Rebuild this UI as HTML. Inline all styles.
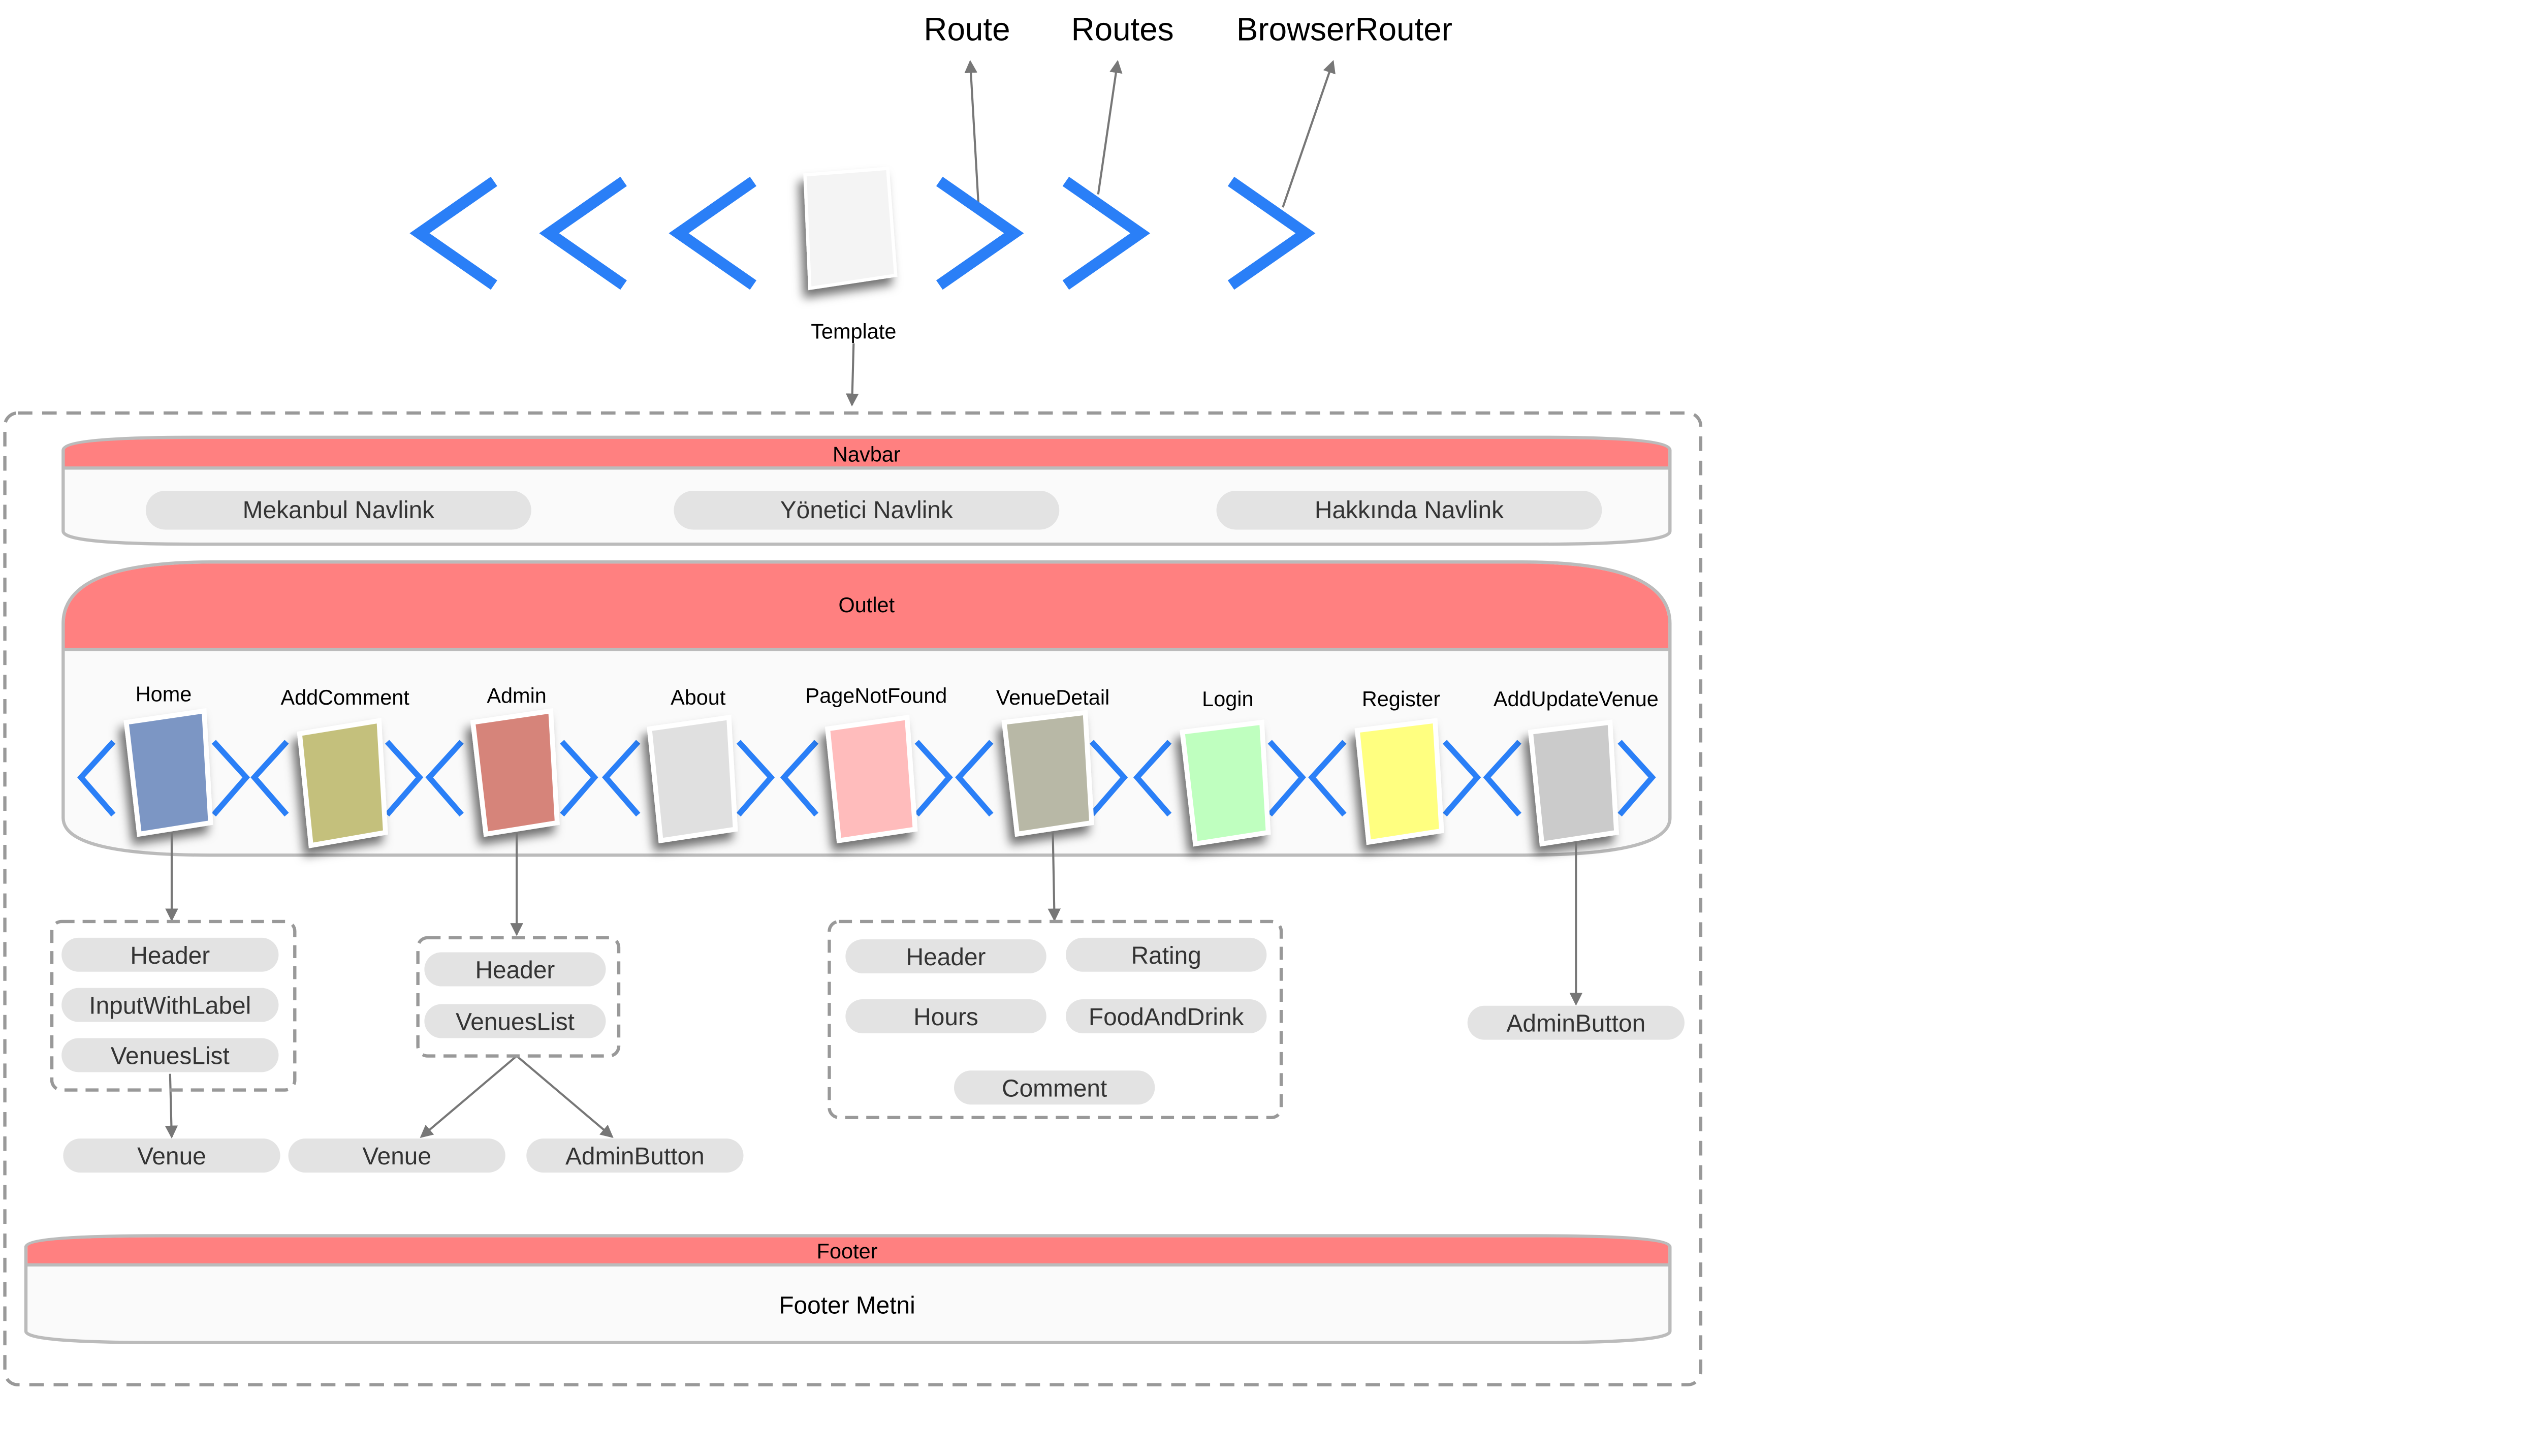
<!DOCTYPE html>
<html><head><meta charset="utf-8"><style>
html,body{margin:0;padding:0;background:#fff;}
svg{display:block;font-family:"Liberation Sans",sans-serif;}
</style></head><body>
<svg width="5245" height="2866" viewBox="0 0 1645 899" preserveAspectRatio="none" xmlns="http://www.w3.org/2000/svg">
<defs>
<marker id="ah" markerWidth="8" markerHeight="8" refX="7" refY="4" orient="auto" markerUnits="userSpaceOnUse"><path d="M0,0 L8,4 L0,8 z" fill="#777"/></marker>
<filter id="sh" x="-40%" y="-30%" width="180%" height="170%"><feDropShadow dx="-3" dy="5" stdDeviation="3" flood-color="#000" flood-opacity="0.55"/></filter>
</defs>
<g font-size="20" text-anchor="middle" fill="#000">
<text x="597" y="25">Route</text><text x="693" y="25">Routes</text><text x="830" y="25">BrowserRouter</text>
</g>
<g stroke="#777" stroke-width="1.3" fill="none" marker-end="url(#ah)">
<line x1="604" y1="125" x2="599" y2="38"/>
<line x1="678" y1="120" x2="690" y2="38"/>
<line x1="792" y1="128" x2="823" y2="38"/>
<line x1="527" y1="212" x2="526" y2="250"/>
</g>
<g stroke="#2a7ff7" stroke-width="7" fill="none" stroke-linejoin="miter">
<polyline points="305,112 259,144 305,176"/>
<polyline points="385,112 339,144 385,176"/>
<polyline points="465,112 419,144 465,176"/>
<polyline points="580,112 626,144 580,176"/>
<polyline points="658,112 704,144 658,176"/>
<polyline points="760,112 806,144 760,176"/>
</g>
<g filter="url(#sh)"><path d="M497,108 L548,104 L553,170 L500,178 Z" fill="#f4f4f4" stroke="#fff" stroke-width="2"/></g>
<text x="527" y="209" font-size="13" text-anchor="middle">Template</text>
<rect x="3" y="255" width="1047" height="600" rx="8" fill="none" stroke="#999" stroke-width="2" stroke-dasharray="9,6"/>
<!-- navbar -->
<path d="M39,278 Q39,270 120,270 L950,270 Q1031,270 1031,278 L1031,328 Q1031,336 950,336 L120,336 Q39,336 39,328 Z" fill="#fafafa" stroke="#bbb" stroke-width="2"/>
<path d="M40,278 Q40,271 120,271 L950,271 Q1030,271 1030,278 L1030,289 L40,289 Z" fill="#ff8080"/>
<line x1="39" y1="289" x2="1031" y2="289" stroke="#bbb" stroke-width="2"/>
<text x="535" y="285" font-size="13" text-anchor="middle">Navbar</text>
<g fill="#e3e3e3"><rect x="90" y="303" width="238" height="24" rx="12"/><rect x="416" y="303" width="238" height="24" rx="12"/><rect x="751" y="303" width="238" height="24" rx="12"/></g>
<g font-size="15" text-anchor="middle" fill="#333"><text x="209" y="320">Mekanbul Navlink</text><text x="535" y="320">Yönetici Navlink</text><text x="870" y="320">Hakkında Navlink</text></g>
<!-- outlet -->
<path d="M39,385 Q39,347 130,347 L940,347 Q1031,347 1031,385 L1031,505 Q1031,528 940,528 L130,528 Q39,528 39,505 Z" fill="#fafafa" stroke="#bbb" stroke-width="2"/>
<path d="M40,385 Q40,348 130,348 L940,348 Q1030,348 1030,385 L1030,401 L40,401 Z" fill="#ff8080"/>
<line x1="39" y1="401" x2="1031" y2="401" stroke="#bbb" stroke-width="2"/>
<text x="535" y="378" font-size="13" text-anchor="middle">Outlet</text>
<g font-size="13" text-anchor="middle">
<text x="101" y="433">Home</text><text x="213" y="435">AddComment</text><text x="319" y="434">Admin</text><text x="431" y="435">About</text><text x="541" y="434">PageNotFound</text><text x="650" y="435">VenueDetail</text><text x="758" y="436">Login</text><text x="865" y="436">Register</text><text x="973" y="436">AddUpdateVenue</text>
</g>
<g stroke="#2a7ff7" stroke-width="3.5" fill="none">
<polyline points="70,458 50,480 70,503"/><polyline points="132,458 152,480 132,503"/>
<polyline points="177,458 157,480 177,503"/><polyline points="239,458 259,480 239,503"/>
<polyline points="285,458 265,480 285,503"/><polyline points="347,458 367,480 347,503"/>
<polyline points="394,458 374,480 394,503"/><polyline points="456,458 476,480 456,503"/>
<polyline points="504,458 484,480 504,503"/><polyline points="566,458 586,480 566,503"/>
<polyline points="612,458 592,480 612,503"/><polyline points="674,458 694,480 674,503"/>
<polyline points="722,458 702,480 722,503"/><polyline points="784,458 804,480 784,503"/>
<polyline points="830,458 810,480 830,503"/><polyline points="892,458 912,480 892,503"/>
<polyline points="938,458 918,480 938,503"/><polyline points="1000,458 1020,480 1000,503"/>
</g>
<g filter="url(#sh)" stroke="#fff" stroke-width="3">
<path d="M78,446 L126,439 L130,508 L86,515 Z" fill="#7b96c4"/>
<path d="M185,453 L234,445 L238,514 L192,522 Z" fill="#c4c07c"/>
<path d="M292,446 L340,439 L344,508 L300,515 Z" fill="#d6847a"/>
<path d="M401,450 L450,443 L454,512 L408,519 Z" fill="#e0e0e0"/>
<path d="M511,450 L560,443 L565,512 L518,519 Z" fill="#ffbcbc"/>
<path d="M620,446 L670,440 L674,508 L628,515 Z" fill="#b8b8a6"/>
<path d="M730,452 L779,446 L783,514 L738,521 Z" fill="#bfffbf"/>
<path d="M838,451 L886,445 L890,513 L845,520 Z" fill="#ffff80"/>
<path d="M945,452 L994,446 L998,514 L952,521 Z" fill="#cbcbcb"/>
</g>
<g stroke="#777" stroke-width="1.3" fill="none" marker-end="url(#ah)">
<line x1="106" y1="514" x2="106" y2="568"/>
<line x1="319" y1="514" x2="319" y2="577"/>
<line x1="650" y1="514" x2="651" y2="568"/>
<line x1="973" y1="520" x2="973" y2="620"/>
<line x1="105" y1="663" x2="106" y2="702"/>
<line x1="319" y1="652" x2="260" y2="702"/>
<line x1="319" y1="652" x2="378" y2="702"/>
</g>
<g fill="none" stroke="#999" stroke-width="2" stroke-dasharray="8,5">
<rect x="32" y="569" width="150" height="104" rx="6"/>
<rect x="258" y="579" width="124" height="73" rx="6"/>
<rect x="512" y="569" width="279" height="121" rx="6"/>
</g>
<g fill="#e3e3e3">
<rect x="38" y="579" width="134" height="21" rx="10.5"/><rect x="38" y="610" width="134" height="21" rx="10.5"/><rect x="38" y="641" width="134" height="21" rx="10.5"/>
<rect x="39" y="703" width="134" height="21" rx="10.5"/><rect x="178" y="703" width="134" height="21" rx="10.5"/><rect x="325" y="703" width="134" height="21" rx="10.5"/>
<rect x="262" y="588" width="112" height="21" rx="10.5"/><rect x="262" y="620" width="112" height="21" rx="10.5"/>
<rect x="522" y="580" width="124" height="21" rx="10.5"/><rect x="658" y="579" width="124" height="21" rx="10.5"/>
<rect x="522" y="617" width="124" height="21" rx="10.5"/><rect x="658" y="617" width="124" height="21" rx="10.5"/>
<rect x="589" y="661" width="124" height="21" rx="10.5"/>
<rect x="906" y="621" width="134" height="21" rx="10.5"/>
</g>
<g font-size="15" text-anchor="middle" fill="#333">
<text x="105" y="595">Header</text><text x="105" y="626">InputWithLabel</text><text x="105" y="657">VenuesList</text>
<text x="106" y="719">Venue</text><text x="245" y="719">Venue</text><text x="392" y="719">AdminButton</text>
<text x="318" y="604">Header</text><text x="318" y="636">VenuesList</text>
<text x="584" y="596">Header</text><text x="720" y="595">Rating</text><text x="584" y="633">Hours</text><text x="720" y="633">FoodAndDrink</text><text x="651" y="677">Comment</text>
<text x="973" y="637">AdminButton</text>
</g>
<!-- footer -->
<path d="M16,770 Q16,763 100,763 L947,763 Q1031,763 1031,770 L1031,822 Q1031,829 947,829 L100,829 Q16,829 16,822 Z" fill="#fafafa" stroke="#bbb" stroke-width="2"/>
<path d="M17,770 Q17,764 100,764 L947,764 Q1030,764 1030,770 L1030,781 L17,781 Z" fill="#ff8080"/>
<line x1="16" y1="781" x2="1031" y2="781" stroke="#bbb" stroke-width="2"/>
<text x="523" y="777" font-size="13" text-anchor="middle">Footer</text>
<text x="523" y="811" font-size="15" text-anchor="middle">Footer Metni</text>
</svg>
</body></html>
